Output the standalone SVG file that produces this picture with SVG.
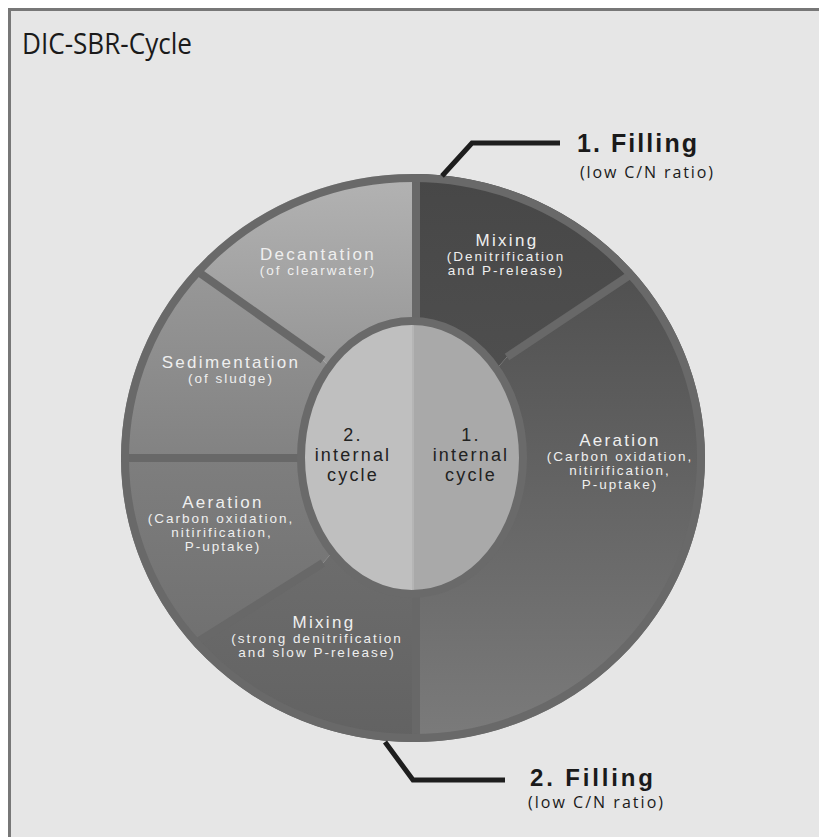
<svg xmlns="http://www.w3.org/2000/svg" width="819" height="837" viewBox="0 0 819 837">
<style>
.seg-t{font-family:"Liberation Sans",Arial,sans-serif;fill:#efefef;text-anchor:middle}
.h{font-size:17px;letter-spacing:2.3px}
.s{font-size:13.5px;letter-spacing:2px}
.in{font-family:"Liberation Sans",Arial,sans-serif;font-size:18px;letter-spacing:2.2px;fill:#222;text-anchor:middle}
.fill-h{font-family:"Liberation Sans",Arial,sans-serif;font-weight:bold;font-size:25px;fill:#1a1a1a}
.fill-s{font-family:"Open Sans","Liberation Sans",sans-serif;font-size:16px;fill:#1a1a1a}
.div{stroke:#686868;stroke-width:8;fill:none}
.lead{stroke:#1e1e1e;stroke-width:5;fill:none;stroke-linejoin:miter}
</style>
<defs>
<clipPath id="outer"><ellipse cx="413" cy="458" rx="292" ry="284"/></clipPath>
<clipPath id="inner"><ellipse cx="412" cy="457.5" rx="113" ry="138"/></clipPath>
<linearGradient id="gDec" gradientUnits="userSpaceOnUse" x1="0" y1="174" x2="0" y2="360"><stop offset="0" stop-color="#b3b3b3"/><stop offset="1" stop-color="#979797"/></linearGradient>
<linearGradient id="gSed" gradientUnits="userSpaceOnUse" x1="0" y1="270" x2="0" y2="458"><stop offset="0" stop-color="#989898"/><stop offset="1" stop-color="#828282"/></linearGradient>
<linearGradient id="gAerL" gradientUnits="userSpaceOnUse" x1="0" y1="458" x2="0" y2="645"><stop offset="0" stop-color="#7e7e7e"/><stop offset="1" stop-color="#707070"/></linearGradient>
<linearGradient id="gMixL" gradientUnits="userSpaceOnUse" x1="0" y1="560" x2="0" y2="742"><stop offset="0" stop-color="#6c6c6c"/><stop offset="1" stop-color="#626262"/></linearGradient>
<linearGradient id="gMixR" gradientUnits="userSpaceOnUse" x1="0" y1="174" x2="0" y2="360"><stop offset="0" stop-color="#474747"/><stop offset="1" stop-color="#4e4e4e"/></linearGradient>
<linearGradient id="gAerR" gradientUnits="userSpaceOnUse" x1="0" y1="270" x2="0" y2="742"><stop offset="0" stop-color="#505050"/><stop offset="1" stop-color="#7b7b7b"/></linearGradient>
</defs>

<rect x="9.5" y="9.5" width="830" height="840" fill="#e6e6e6" stroke="#777" stroke-width="3"/>

<g id="title"><text x="22" y="54" font-family="'Open Sans','Liberation Sans',sans-serif" font-size="29" fill="#1a1a1a" textLength="170" lengthAdjust="spacingAndGlyphs">DIC-SBR-Cycle</text></g>

<g id="ring" clip-path="url(#outer)">
<g id="seg-decantation"><polygon points="416,100 416,458 323,360 80,188 80,100" fill="url(#gDec)"/></g>
<g id="seg-sedimentation"><polygon points="80,188 323,360 416,458 80,458" fill="url(#gSed)"/></g>
<g id="seg-aeration2"><polygon points="80,458 416,458 323,563 80,715" fill="url(#gAerL)"/></g>
<g id="seg-mixing2"><polygon points="80,715 323,563 416,458 416,800 80,800" fill="url(#gMixL)"/></g>
<g id="seg-mixing1"><polygon points="416,100 760,100 760,189 507,357 416,458" fill="url(#gMixR)"/></g>
<g id="seg-aeration1"><polygon points="416,458 507,357 760,189 760,800 416,800" fill="url(#gAerR)"/></g>
<g id="dividers">
<line class="div" x1="416" y1="160" x2="416" y2="330"/>
<line class="div" x1="416" y1="585" x2="416" y2="760"/>
<line class="div" x1="507" y1="357" x2="660" y2="255"/>
<line class="div" x1="323" y1="360" x2="180" y2="259"/>
<line class="div" x1="323" y1="563" x2="180" y2="653"/>
<line class="div" x1="100" y1="458" x2="305" y2="458"/>
</g>
</g>
<ellipse cx="413" cy="458" rx="288" ry="280" fill="none" stroke="#696969" stroke-width="8"/>

<g id="center">
<g clip-path="url(#inner)">
<rect x="290" y="310" width="123" height="300" fill="#bfbfbf"/>
<rect x="413" y="310" width="123" height="300" fill="#a9a9a9"/>
<line x1="413" y1="310" x2="413" y2="610" stroke="#b5b5b5" stroke-width="2"/>
</g>
<ellipse cx="412" cy="457.5" rx="111" ry="136.5" fill="none" stroke="#6a6a6a" stroke-width="8"/>
<g id="cycle2"><text class="in" x="353" y="441">2.</text><text class="in" x="353" y="461">internal</text><text class="in" x="353" y="481">cycle</text></g>
<g id="cycle1"><text class="in" x="471" y="441">1.</text><text class="in" x="471" y="461">internal</text><text class="in" x="471" y="481">cycle</text></g>
</g>

<g id="labels">
<g id="lbl-mixing1"><text class="seg-t h" x="507" y="246">Mixing</text><text class="seg-t s" x="506" y="261">(Denitrification</text><text class="seg-t s" x="506" y="275">and P-release)</text></g>
<g id="lbl-aeration1"><text class="seg-t h" x="620" y="446">Aeration</text><text class="seg-t s" x="620" y="461">(Carbon oxidation,</text><text class="seg-t s" x="620" y="475">nitirification,</text><text class="seg-t s" x="620" y="489">P-uptake)</text></g>
<g id="lbl-decantation"><text class="seg-t h" x="318" y="260">Decantation</text><text class="seg-t s" x="318" y="275">(of clearwater)</text></g>
<g id="lbl-sedimentation"><text class="seg-t h" x="231" y="368">Sedimentation</text><text class="seg-t s" x="231" y="383">(of sludge)</text></g>
<g id="lbl-aeration2"><text class="seg-t h" x="223" y="508">Aeration</text><text class="seg-t s" x="221" y="523">(Carbon oxidation,</text><text class="seg-t s" x="222" y="537">nitirification,</text><text class="seg-t s" x="223" y="551">P-uptake)</text></g>
<g id="lbl-mixing2"><text class="seg-t h" x="324" y="628">Mixing</text><text class="seg-t s" x="317" y="643">(strong denitrification</text><text class="seg-t s" x="317" y="657">and slow P-release)</text></g>
</g>

<g id="connectors">
<polyline class="lead" points="442,176 472,143 560,143"/>
<polyline class="lead" points="385,742 413,780 505,780"/>
</g>

<g id="filling1"><text class="fill-h" x="577" y="152" textLength="120" lengthAdjust="spacing">1. Filling</text><text class="fill-s" x="580" y="178" textLength="133" lengthAdjust="spacing">(low C/N ratio)</text></g>
<g id="filling2"><text class="fill-h" x="530" y="786" font-size="24" textLength="123" lengthAdjust="spacing" style="font-size:24px">2. Filling</text><text class="fill-s" x="528" y="808" textLength="135" lengthAdjust="spacing">(low C/N ratio)</text></g>
</svg>
